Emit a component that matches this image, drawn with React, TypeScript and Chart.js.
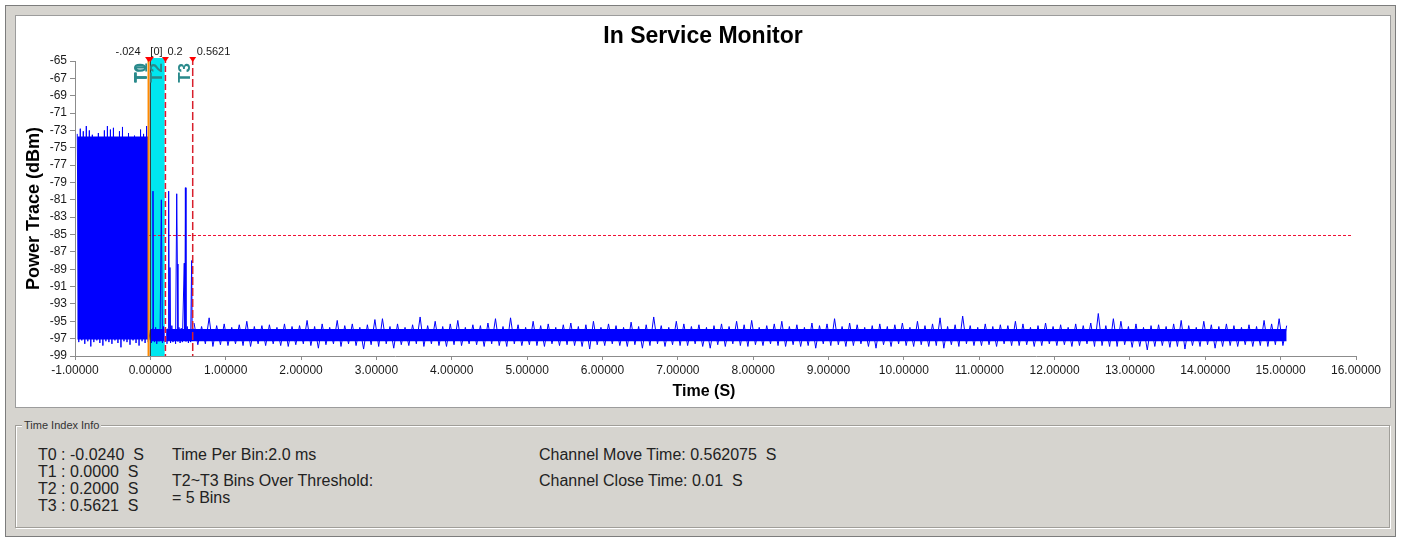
import React, { useEffect, useRef } from 'react';
import { Chart, registerables } from 'chart.js';

Chart.register(...registerables);

const FONT = '"Liberation Sans", Arial, Helvetica, sans-serif';

// ---- axes ----
const xMin = -1;
const xMax = 16;
const xStep = 1;
const yMin = -99;
const yMax = -65;
const yStep = 2;
const chartTitle = 'In Service Monitor';
const xTitle = 'Time (S)';
const yTitle = 'Power Trace (dBm)';
const thresholdDbm = -85;

// ---- time markers ----
const markerNames = ['T0', 'T1', 'T2', 'T3'];
const markerTimes = [-0.024, 0, 0.2, 0.5621];
const markerTopLabels = ['-.024', '[0]', '0.2', '0.5621'];

// ---- trace: before the channel move (peaks / troughs every 20 ms, alternating) ----
const preStart = -0.97;
const preStep = 0.02;
const prePeaks = [
  -73.4, -72.8, -73.1, -72.5, -73.0, -73.5, -74.2, -73.3, -73.9, -73.0, -72.5, -72.9,
  -72.7, -75.0, -73.1, -72.6, -74.1, -73.3, -74.2, -73.6, -74.0, -72.9, -73.4, -72.5,
];
const preTroughs = [
  -97.4, -97.2, -97.6, -97.3, -97.9, -97.4, -97.2, -97.5, -97.8, -97.3, -97.4, -97.6,
  -97.2, -97.5, -98.0, -97.3, -97.4, -97.7, -97.2, -97.5, -97.8, -97.3, -97.5, -97.4,
];
const preBody = [-73.7, -97.1];
const preSpan = [-0.97, -0.024];

// ---- trace: during the move (T0 .. T3) ----
const moveTimes = [
  -0.02, 0.0, 0.015, 0.03, 0.035, 0.04, 0.055, 0.07, 0.085, 0.1, 0.115, 0.13, 0.146, 0.16,
  0.175, 0.19, 0.205, 0.22, 0.235, 0.243, 0.251, 0.26, 0.268, 0.285, 0.3, 0.315, 0.335,
  0.35, 0.358, 0.366, 0.38, 0.395, 0.41, 0.425, 0.45, 0.458, 0.465, 0.473, 0.49, 0.505,
  0.52, 0.535, 0.548, 0.556, 0.565,
];
const moveValues = [
  -97.2, -96.0, -97.5, -95.8, -80.0, -96.2, -97.4, -95.7, -97.6, -95.9, -97.3, -95.8, -81.0,
  -97.5, -95.6, -97.4, -96.0, -97.6, -95.8, -80.0, -96.6, -88.8, -97.5, -95.5, -97.4, -95.9,
  -97.6, -80.3, -88.4, -97.3, -95.7, -97.5, -95.8, -97.4, -88.3, -96.4, -79.6, -97.3, -95.6,
  -97.5, -95.9, -97.4, -88.0, -97.1, -95.8,
];

// ---- trace: after the move (peaks / troughs every 50 ms, alternating) ----
const postStart = 0.58;
const postStep = 0.05;
const postPeaks = [
  -95.2, -95.6, -94.6, -95.5, -95.3, -95.7, -95.4, -95.0, -95.6, -95.5,
  -95.4, -95.7, -95.3, -95.6, -95.5, -94.9, -95.6, -95.3, -95.7, -94.9,
  -95.5, -95.3, -95.7, -95.4, -94.8, -94.7, -95.6, -95.3, -95.7, -95.4,
  -94.5, -95.5, -95.0, -95.6, -95.3, -94.9, -95.7, -95.4, -95.5, -95.2,
  -94.7, -95.6, -94.6, -95.4, -95.7, -95.0, -95.5, -95.3, -95.7, -95.4,
  -95.2, -95.6, -95.4, -95.0, -95.7, -95.3, -95.5, -95.7, -95.1, -95.6,
  -95.4, -94.5, -95.5, -95.7, -95.0, -95.3, -95.6, -95.4, -95.7, -95.5,
  -95.3, -95.6, -95.0, -95.4, -94.9, -95.7, -95.5, -95.3, -95.0, -95.6,
  -95.4, -95.7, -95.2, -95.5, -95.3, -94.7, -95.6, -95.2, -95.4, -95.7,
  -95.5, -95.3, -95.6, -95.4, -95.2, -95.7, -95.0, -95.5, -95.3, -94.6,
  -95.6, -95.4, -94.4, -95.5, -95.7, -95.3, -95.6, -95.4, -95.5, -95.0,
  -95.3, -95.7, -95.5, -95.2, -95.6, -95.4, -95.7, -95.3, -95.5, -95.2,
  -94.1, -95.5, -94.7, -95.0, -95.6, -95.3, -95.7, -95.5, -95.4, -95.6,
  -95.3, -94.9, -95.5, -95.7, -95.0, -95.4, -95.6, -95.3, -95.5, -95.7,
  -95.4, -95.6, -94.9, -95.3, -94.7, -95.5,
];
const postTroughs = [
  -97.7, -97.6, -97.9, -97.7, -97.8, -97.6, -97.8, -97.9, -97.6, -97.8,
  -97.6, -97.8, -97.9, -97.7, -97.6, -97.8, -98.1, -97.7, -97.6, -97.9,
  -97.6, -97.8, -98.2, -97.7, -97.9, -97.6, -98.1, -97.7, -97.8, -97.6,
  -97.9, -97.6, -97.8, -97.9, -97.7, -97.8, -97.6, -97.7, -97.9, -97.6,
  -97.8, -97.9, -97.6, -97.8, -97.7, -97.8, -97.9, -97.6, -97.8, -97.7,
  -97.8, -97.9, -98.2, -97.7, -97.8, -97.6, -97.8, -97.9, -97.7, -98.1,
  -97.8, -97.6, -97.9, -97.7, -97.8, -97.8, -97.6, -97.9, -98.1, -97.7,
  -97.9, -97.6, -97.8, -97.9, -97.7, -97.8, -97.6, -97.8, -97.9, -97.7,
  -97.9, -97.8, -98.1, -97.6, -97.8, -97.7, -97.9, -97.8, -97.6, -97.9,
  -98.1, -97.7, -97.9, -97.6, -97.8, -97.9, -97.7, -97.9, -97.8, -98.1,
  -97.7, -97.9, -97.6, -97.8, -97.8, -97.7, -97.9, -97.6, -97.8, -97.8,
  -97.7, -97.9, -97.8, -97.6, -97.8, -97.7, -97.9, -97.8, -97.6, -97.9,
  -97.8, -97.9, -97.9, -97.7, -98.0, -97.9, -98.3, -97.9, -97.8, -98.0,
  -97.9, -98.2, -97.8, -97.9, -97.7, -98.1, -97.9, -97.8, -97.9, -97.7,
  -97.9, -97.8, -97.9, -97.7, -97.8,
];
const postBody = [-95.9, -97.3];
const postSpan = [0, 15.08];

// ---- info panel ----
const infoTitle = 'Time Index Info';
const infoTimes = ['T0 : -0.0240  S', 'T1 : 0.0000  S', 'T2 : 0.2000  S', 'T3 : 0.5621  S'];
const infoBin = 'Time Per Bin:2.0 ms';
const infoOver = ['T2~T3 Bins Over Threshold:', '= 5 Bins'];
const infoChannel = ['Channel Move Time: 0.562075  S', 'Channel Close Time: 0.01  S'];

const TRACE = '#0000ff';

function zigzag(start: number, step: number, peaks: number[], troughs: number[]) {
  const pts: { x: number; y: number }[] = [];
  const n = Math.max(peaks.length, troughs.length);
  for (let i = 0; i < n; i++) {
    if (i < peaks.length) pts.push({ x: start + 2 * i * step, y: peaks[i] });
    if (i < troughs.length) pts.push({ x: start + (2 * i + 1) * step, y: troughs[i] });
  }
  return pts;
}

const markerStyles = [
  { color: '#ff8a00', width: 2, dash: [] as number[], under: '' },
  { color: '#302020', width: 1, dash: [] as number[], under: '' },
  { color: '#e8102c', width: 1.5, dash: [6, 3], under: '#ffffff' },
  { color: '#d8202c', width: 1.5, dash: [8, 3], under: '' },
];
const topLabelPlace = [
  { align: 'right' as CanvasTextAlign, dx: -8 },
  { align: 'left' as CanvasTextAlign, dx: 0 },
  { align: 'left' as CanvasTextAlign, dx: 2 },
  { align: 'left' as CanvasTextAlign, dx: 4 },
];

const overlayPlugin = {
  id: 'ismOverlay',
  beforeDatasetsDraw(chart: any) {
    const { ctx, chartArea: a, scales } = chart;
    const x = scales.x;
    const y = scales.y;
    ctx.save();
    const x1 = x.getPixelForValue(markerTimes[1]);
    const x2 = x.getPixelForValue(markerTimes[2]);
    ctx.fillStyle = '#00e6ef';
    ctx.fillRect(x1, a.top - 3, x2 - x1, a.bottom - a.top + 3);
    const ty = Math.round(y.getPixelForValue(thresholdDbm));
    ctx.fillStyle = '#f01035';
    for (let px = a.left + 3; px < a.right - 3; px += 5) {
      ctx.fillRect(px, ty, 3, 1);
    }
    ctx.restore();
  },
  afterDatasetsDraw(chart: any) {
    const { ctx, chartArea: a, scales } = chart;
    const x = scales.x;
    ctx.save();
    const lineTop = a.top - 4;
    markerTimes.forEach((t, i) => {
      const px = x.getPixelForValue(t);
      const s = markerStyles[i];
      if (s.under) {
        ctx.setLineDash([]);
        ctx.strokeStyle = s.under;
        ctx.lineWidth = s.width;
        ctx.beginPath();
        ctx.moveTo(px, lineTop);
        ctx.lineTo(px, a.bottom);
        ctx.stroke();
      }
      ctx.setLineDash(s.dash);
      ctx.strokeStyle = s.color;
      ctx.lineWidth = s.width;
      ctx.beginPath();
      ctx.moveTo(px, lineTop);
      ctx.lineTo(px, a.bottom);
      ctx.stroke();
    });
    ctx.setLineDash([]);
    // triangles
    markerTimes.forEach((t) => {
      const px = x.getPixelForValue(t);
      ctx.fillStyle = '#ff0000';
      ctx.beginPath();
      ctx.moveTo(px - 3.5, a.top - 4);
      ctx.lineTo(px + 3.5, a.top - 4);
      ctx.lineTo(px, a.top + 1);
      ctx.closePath();
      ctx.fill();
    });
    // top value labels
    ctx.font = `11px ${FONT}`;
    ctx.fillStyle = '#1a1a1a';
    ctx.textBaseline = 'middle';
    markerTopLabels.forEach((lbl, i) => {
      const px = x.getPixelForValue(markerTimes[i]);
      ctx.textAlign = topLabelPlace[i].align;
      ctx.fillText(lbl, px + topLabelPlace[i].dx, a.top - 9);
    });
    // rotated marker names
    ctx.font = `bold 17px ${FONT}`;
    ctx.fillStyle = '#2a8a8c';
    markerNames.forEach((name, i) => {
      const px = x.getPixelForValue(markerTimes[i]);
      ctx.save();
      ctx.translate(px - 3, a.top + 2);
      ctx.rotate(-Math.PI / 2);
      ctx.textAlign = 'right';
      ctx.textBaseline = 'alphabetic';
      ctx.fillText(name, 0, 0);
      ctx.restore();
    });
    // chart title and x-axis title
    ctx.fillStyle = '#000';
    ctx.textAlign = 'center';
    ctx.textBaseline = 'middle';
    ctx.font = `bold 23px ${FONT}`;
    ctx.fillText(chartTitle, 703, 37);
    ctx.font = `bold 16px ${FONT}`;
    ctx.fillText(xTitle, 704, 392);
    ctx.restore();
  },
};

export default function App() {
  const ref = useRef<HTMLCanvasElement>(null);

  useEffect(() => {
    const canvas = ref.current;
    if (!canvas) return;
    const flat = { borderWidth: 0, pointRadius: 0, backgroundColor: TRACE, borderColor: TRACE };
    const line = { borderWidth: 1, pointRadius: 0, borderColor: TRACE, fill: false, tension: 0 };
    const chart = new Chart(canvas, {
      type: 'line',
      data: {
        datasets: [
          {
            ...flat,
            data: [
              { x: preSpan[0], y: preBody[0] },
              { x: preSpan[1], y: preBody[0] },
            ],
            fill: { value: preBody[1] },
          },
          {
            ...flat,
            data: [
              { x: postSpan[0], y: postBody[0] },
              { x: postSpan[1], y: postBody[0] },
            ],
            fill: { value: postBody[1] },
          },
          { ...line, data: zigzag(preStart, preStep, prePeaks, preTroughs) },
          { ...line, data: moveTimes.map((t, i) => ({ x: t, y: moveValues[i] })) },
          { ...line, data: zigzag(postStart, postStep, postPeaks, postTroughs) },
        ],
      } as any,
      options: {
        animation: false,
        responsive: false,
        devicePixelRatio: 1,
        parsing: false,
        normalized: true,
        layout: { padding: { left: 0, top: 61, right: 45, bottom: 134 } },
        plugins: {
          legend: { display: false },
          tooltip: { enabled: false },
          title: { display: false },
        },
        scales: {
          x: {
            type: 'linear',
            min: xMin,
            max: xMax,
            ticks: {
              stepSize: xStep,
              autoSkip: false,
              maxRotation: 0,
              padding: 3,
              color: '#1a1a1a',
              font: { family: FONT, size: 12 },
              callback: (v: any) => Number(v).toFixed(5),
            },
            grid: { drawOnChartArea: false, drawTicks: true, tickLength: 4, color: '#8c8c8c' },
            border: { display: true, color: '#8c8c8c' },
            afterFit: (s: any) => {
              s.height = 50;
            },
          },
          y: {
            type: 'linear',
            min: yMin,
            max: yMax,
            ticks: {
              stepSize: yStep,
              autoSkip: false,
              padding: 3,
              color: '#1a1a1a',
              font: { family: FONT, size: 12 },
            },
            grid: { drawOnChartArea: false, drawTicks: true, tickLength: 5, color: '#8c8c8c' },
            border: { display: true, color: '#8c8c8c' },
            title: {
              display: true,
              text: yTitle,
              color: '#000',
              font: { family: FONT, size: 18, weight: 'bold' },
              padding: { top: 23, bottom: 0 },
            },
            afterFit: (s: any) => {
              s.width = 75;
            },
          },
        },
      } as any,
      plugins: [overlayPlugin],
    });
    return () => chart.destroy();
  }, []);

  const textStyle: React.CSSProperties = {
    position: 'absolute',
    fontFamily: FONT,
    fontSize: 16,
    color: '#222',
    whiteSpace: 'pre',
    lineHeight: '17px',
  };

  return (
    <div
      style={{
        position: 'fixed',
        left: 0,
        top: 0,
        width: 1401,
        height: 540,
        background: '#ffffff',
        overflow: 'hidden',
      }}
    >
      <div
        style={{
          position: 'absolute',
          left: 5,
          top: 5,
          width: 1391,
          height: 532,
          boxSizing: 'border-box',
          border: '1px solid #7c7c7c',
          background: '#d6d4cf',
        }}
      />
      <div
        style={{
          position: 'absolute',
          left: 15,
          top: 15,
          width: 1376,
          height: 393,
          boxSizing: 'border-box',
          border: '1px solid #9c9c9c',
          background: '#ffffff',
        }}
      />
      <div
        style={{
          position: 'absolute',
          left: 15,
          top: 425,
          width: 1375,
          height: 103,
          boxSizing: 'border-box',
          border: '1px solid #a09e99',
          boxShadow: 'inset 1px 1px 0 #ffffff, 1px 1px 0 #ffffff',
        }}
      />
      <div
        style={{
          ...textStyle,
          left: 22,
          top: 418,
          fontSize: 11,
          lineHeight: '14px',
          background: '#d6d4cf',
          padding: '0 2px',
          color: '#333',
        }}
      >
        {infoTitle}
      </div>
      <div style={{ ...textStyle, left: 38, top: 446 }}>
        {infoTimes.map((s) => (
          <div key={s}>{s}</div>
        ))}
      </div>
      <div style={{ ...textStyle, left: 172, top: 446 }}>{infoBin}</div>
      <div style={{ ...textStyle, left: 172, top: 472 }}>
        {infoOver.map((s) => (
          <div key={s}>{s}</div>
        ))}
      </div>
      <div style={{ ...textStyle, left: 539, top: 446 }}>{infoChannel[0]}</div>
      <div style={{ ...textStyle, left: 539, top: 472 }}>{infoChannel[1]}</div>
      <canvas
        ref={ref}
        width={1401}
        height={540}
        style={{ position: 'absolute', left: 0, top: 0, width: 1401, height: 540 }}
      />
    </div>
  );
}
